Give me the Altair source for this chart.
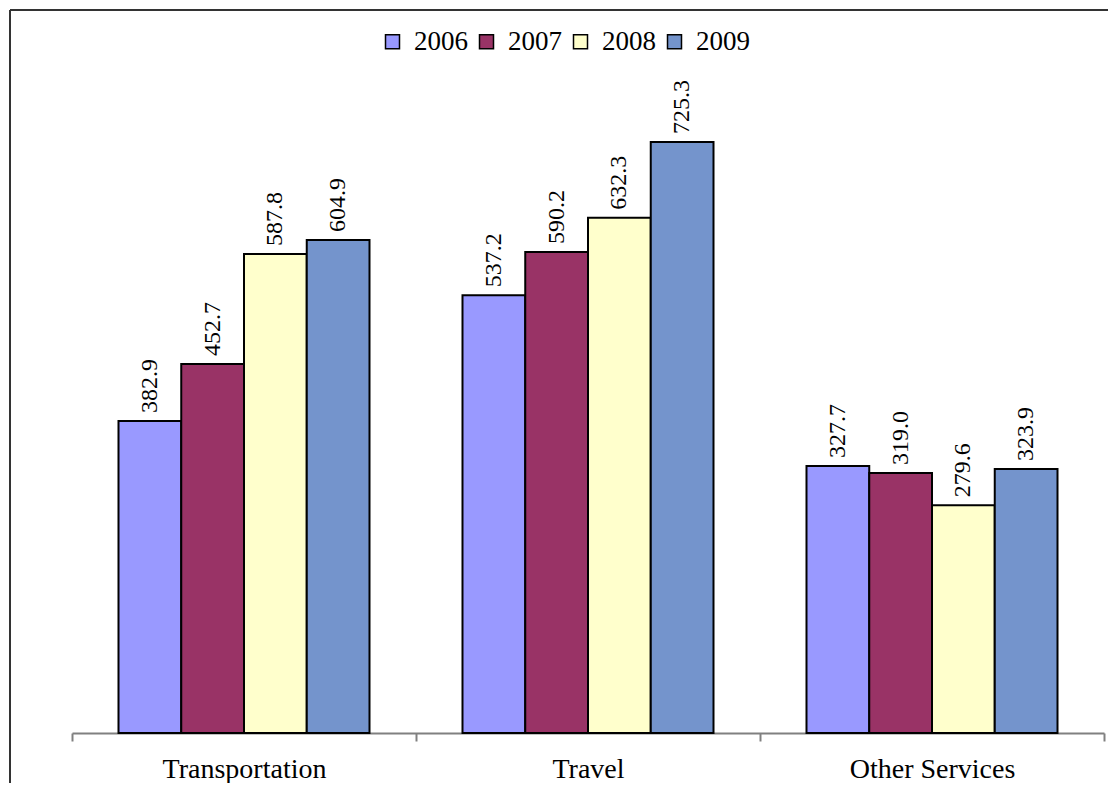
import altair as alt
import pandas as pd

categories = ["Transportation", "Travel", "Other Services"]
years = ["2006", "2007", "2008", "2009"]
v2006 = [382.9, 537.2, 327.7]
v2007 = [452.7, 590.2, 319.0]
v2008 = [587.8, 632.3, 279.6]
v2009 = [604.9, 725.3, 323.9]
colors = ["#9999ff", "#993366", "#ffffcc", "#7494cc"]

rows = []
for yr, vals in zip(years, [v2006, v2007, v2008, v2009]):
    for c, v in zip(categories, vals):
        rows.append({"category": c, "year": yr, "value": v})
df = pd.DataFrame(rows)

FONT = "Liberation Serif"

x = alt.X("category:N", sort=categories,
          scale=alt.Scale(paddingInner=0, paddingOuter=0),
          axis=alt.Axis(title=None, labelAngle=0, tickBand="extent",
                        domainColor="#808080", domainWidth=2,
                        tickColor="#808080", tickWidth=2, tickSize=8,
                        labelFont=FONT, labelFontSize=28, labelColor="black",
                        labelBaseline="alphabetic", labelPadding=36))
xo = alt.XOffset("year:N", sort=years,
                 scale=alt.Scale(paddingInner=0, paddingOuter=0.741))
y = alt.Y("value:Q", scale=alt.Scale(domain=[0, 800]), axis=None)

bars = alt.Chart(df).mark_bar(stroke="black", strokeWidth=2).encode(
    x=x, xOffset=xo, y=y,
    color=alt.Color("year:N", sort=years,
                    scale=alt.Scale(domain=years, range=colors),
                    legend=alt.Legend(title=None, orient="none", direction="horizontal",
                                      legendX=307, legendY=-53,
                                      symbolType="square", symbolSize=196,
                                      symbolStrokeColor="black", symbolStrokeWidth=1.5,
                                      symbolOpacity=1,
                                      labelFont=FONT, labelFontSize=27, labelColor="black",
                                      labelOffset=8, columnPadding=5)),
)

labels = alt.Chart(df).mark_text(angle=270, align="left", baseline="middle", dx=8,
                                 font=FONT, fontSize=24, color="black").encode(
    x=x, xOffset=xo, y=y,
    text=alt.Text("value:Q", format=".1f"),
)

frame_df = pd.DataFrame({"k": [0]})
top_line = alt.Chart(frame_df).mark_rule(color="#333333", strokeWidth=2).encode(
    x=alt.value(-62), x2=alt.value(1300), y=alt.value(-71))
left_line = alt.Chart(frame_df).mark_rule(color="#333333", strokeWidth=2).encode(
    x=alt.value(-62), y=alt.value(-71), y2=alt.value(1000))

chart = alt.layer(top_line, left_line, bars, labels).properties(
    width=1032, height=652,
    autosize=alt.AutoSizeParams(type="none"),
    padding={"left": 64, "top": 73, "right": 4, "bottom": 50},
).configure_view(stroke=None)

chart.save("out.html", embed_options={"renderer": "svg", "actions": False})
